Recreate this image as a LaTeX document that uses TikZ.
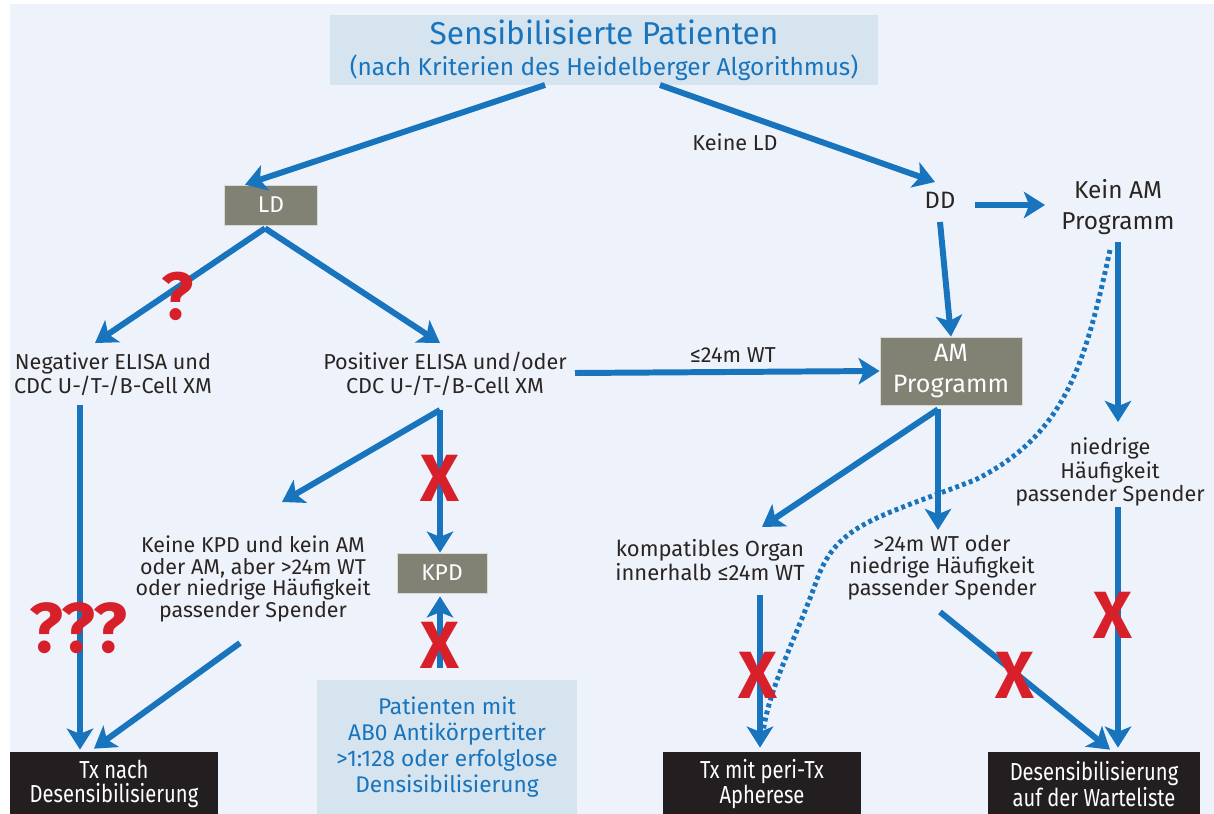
\documentclass[tikz,border=0pt]{standalone}
\usepackage{fontspec}
\setmainfont{Fira Sans}
\newfontfamily\condfont[FakeStretch=0.82]{Fira Sans}
\usetikzlibrary{arrows.meta,positioning,calc}
\definecolor{flowblue}{HTML}{1874BC}
\definecolor{panelbg}{HTML}{EEF3FB}
\definecolor{headbg}{HTML}{D6E4F0}
\definecolor{decgray}{HTML}{818174}
\definecolor{endblack}{HTML}{231F20}
\definecolor{inkdark}{HTML}{2A2522}
\definecolor{stopred}{HTML}{D7202A}
\tikzset{
  stepnote/.style={align=center,inner sep=0pt,text=inkdark,
    font=\fontsize{12.3}{13.6}\selectfont},
  decbox/.style={fill=decgray,draw=white!70!decgray,line width=0.4pt,text=white,
    align=center,minimum height=0.8cm,inner sep=2pt,font=\fontsize{13}{17.6}\selectfont},
  endbox/.style={fill=endblack,text=white,align=center,minimum height=1.28cm,
    inner sep=2pt,font=\condfont\fontsize{14}{13.8}\selectfont},
  infobox/.style={fill=headbg,text=flowblue,align=center,inner sep=2pt},
  flowarrow/.style={-{Stealth[length=12pt,width=15pt,inset=3pt]},line width=3.4pt,draw=flowblue},
  hintline/.style={line width=2.8pt,draw=flowblue,dash pattern=on 2.2pt off 1.9pt},
  stopmark/.style={text=stopred,inner sep=0pt,font=\bfseries\fontsize{38}{38}\selectfont}
}
\begin{document}
\begin{tikzpicture}[x=0.02cm,y=-0.02cm]
\path[use as bounding box] (0,0) rectangle (1214,814);
\fill[panelbg] (10,4) rectangle (1214,814);
% top
\node[infobox,minimum width=10.96cm,minimum height=1.4cm,
  font=\fontsize{13.9}{17.6}\selectfont] (patients) at (604,50)
  {{\fontsize{18}{17.6}\selectfont Sensibilisierte Patienten}\\
   (nach Kriterien des Heidelberger Algorithmus)};
\node[decbox,minimum width=1.86cm] (ld) at (271,205) {LD};
\node[stepnote,font=\fontsize{13.5}{17}\selectfont] (dd) at (940,200) {DD};
\node[stepnote,font=\fontsize{13.9}{17.6}\selectfont] (keinam) at (1118,207) {Kein AM\\Programm};
\node[decbox,minimum width=2.84cm,minimum height=1.36cm,
  font=\fontsize{14.3}{17.6}\selectfont] (amprog) at (951,371) {AM\\Programm};
\node[stepnote] (lblkeinld) at (735,142) {Keine LD};
% second row
\node[stepnote] (negelisa) at (113,374) {Negativer ELISA und\\CDC U-/T-/B-Cell XM};
\node[stepnote] (poselisa) at (445,374) {Positiver ELISA und/oder\\CDC U-/T-/B-Cell XM};
\node[stepnote] (lblwt) at (733,355) {≤24m WT};
% third row
\node[stepnote,font=\fontsize{12.2}{12.2}\selectfont] (keinkpd) at (253,579)
  {Keine KPD und kein AM\\oder AM, aber >24m WT\\oder niedrige Häufigkeit\\passender Spender};
\node[decbox,minimum width=1.8cm] (kpd) at (442,573) {KPD};
\node[stepnote,font=\fontsize{12.5}{14}\selectfont] (kompat) at (710,560) {kompatibles Organ\\innerhalb ≤24m WT};
\node[stepnote,font=\fontsize{12.3}{12.5}\selectfont] (wtlong) at (942,568)
  {>24m WT oder\\niedrige Häufigkeit\\passender Spender};
\node[stepnote,font=\fontsize{12.3}{13.3}\selectfont,fill=panelbg] (niedrig) at (1110,472)
  {niedrige\\Häufigkeit\\passender Spender};
% bottom
\node[infobox,minimum width=5.2cm,minimum height=2.68cm,
  font=\fontsize{12.9}{14.7}\selectfont] (abo) at (447,747)
  {Patienten mit\\AB0 Antikörpertiter\\>1:128 oder erfolglose\\Densisibilisierung};
\node[endbox,minimum width=4.16cm] (txnach) at (114,784) {Tx nach\\Desensibilisierung};
\node[endbox,minimum width=3.98cm] (txperi) at (762,784) {Tx mit peri-Tx\\Apherese};
\node[endbox,minimum width=4.24cm] (desens) at (1094,784) {Desensibilisierung\\auf der Warteliste};

% connectors
\draw[flowarrow] ($(patients)+(-59,35)$) -- ($(ld.north)+(-26,0)$);
\draw[flowarrow] ($(patients)+(56,35)$) -- ($(dd)+(-5,-18)$);
\draw[flowarrow] ($(dd)+(35,5)$) -- ($(keinam)+(-73,-2)$);
\draw[flowarrow] ($(dd)+(0,22)$) -- (amprog.north);
\draw[flowarrow] ($(ld.south)+(-6,3)$) -- ($(negelisa)+(-18,-31)$);
\draw[flowarrow] ($(ld.south)+(-6,3)$) -- ($(poselisa)+(-5,-31)$);
\draw[flowarrow] ($(poselisa)+(130,-1)$) -- (amprog.west);
\draw[flowarrow] ($(negelisa)+(-33,31)$) -- ($(txnach.north)+(-34,-2)$);
\draw[flowarrow] ($(poselisa)+(-5,36)$) -- ($(keinkpd)+(29,-77)$);
\draw[flowarrow] ($(poselisa)+(-5,36)$) -- ($(kpd.north)+(-2,0)$);
\draw[flowarrow] ($(keinkpd)+(-13,64)$) -- ($(txnach.north)+(-20,-3)$);
\draw[flowarrow] ($(abo.north)+(-7,-12)$) -- ($(kpd.south)+(-2,3)$);
\draw[flowarrow] ($(amprog.south)+(-13,4)$) -- ($(kompat)+(52,-33)$);
\draw[flowarrow] ($(amprog.south)+(-13,4)$) -- ($(wtlong)+(-4,-38)$);
\draw[flowarrow] ($(kompat)+(50,35)$) -- ($(txperi.north)+(-2,-4)$);
\draw[flowarrow] ($(wtlong)+(-2,44)$) -- ($(desens.north)+(16,-2)$);
\draw[flowarrow] ($(keinam)+(0,35)$) -- ($(niedrig)+(8,-50)$);
\draw[flowarrow] ($(niedrig)+(8,35)$) -- ($(desens.north)+(24,-4)$);
% dotted hint
\coordinate (hintstart) at ($(keinam)+(-8,43)$);
\coordinate (hintend) at ($(txperi.north)+(1,-18)$);
\draw[hintline] (hintstart) .. controls (1085,365) and (1065,435) .. (975,480)
  .. controls (870,520) and (835,525) .. (815,585)
  .. controls (795,640) and (768,690) .. (hintend);
% marks
\node[stopmark] (stopa) at (440,478) {X};
\node[stopmark] (stopb) at (440,645) {X};
\node[stopmark] (stopc) at (758,675) {X};
\node[stopmark] (stopd) at (1015,675) {X};
\node[stopmark] (stope) at (1113,615) {X};
\node[stopmark] (askone) at (178,296) {?};
\node[stopmark,font=\bfseries\fontsize{40}{40}\selectfont] (askthree) at (78,628) {???};
\end{tikzpicture}
\end{document}
